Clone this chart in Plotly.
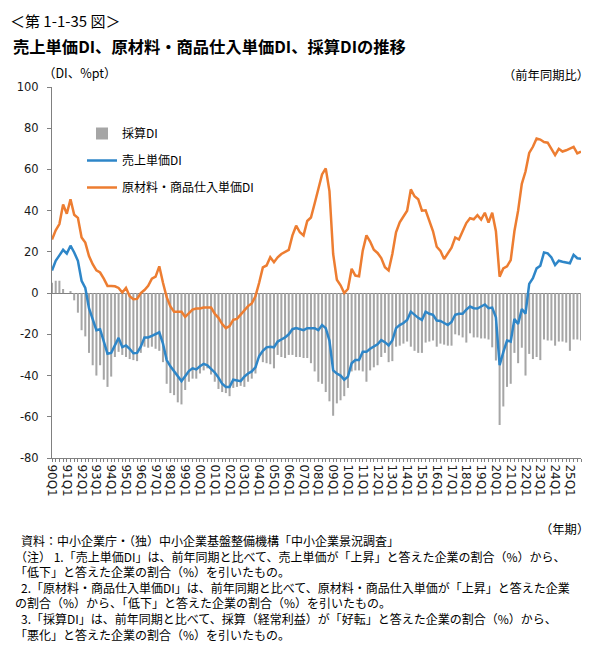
import plotly.graph_objects as go

# ---------------- data ----------------
year_labels = ["90", "91", "92", "93", "94", "95", "96", "97", "98", "99",
               "00", "01", "02", "03", "04", "05", "06", "07", "08", "09",
               "10", "11", "12", "13", "14", "15", "16", "17", "18", "19",
               "20", "21", "22", "23", "24", "25"]
quarter_labels = [f"{y}Q{q}" for y in year_labels for q in (1, 2, 3, 4)]

# 採算DI (bars)
saisan_di = [
    5, 6, 6, 2,                 # 90
    0, 1, -3.5, -9.5,           # 91
    -18, -21, -29, -35,         # 92
    -40, -35, -42, -45.5,       # 93
    -40.5, -31, -28.5, -30,     # 94
    -31, -32, -32.5, -33,       # 95
    -29, -26, -26.5, -26,       # 96
    -27, -28, -33.5, -44,       # 97
    -48.5, -49.5, -53, -54,     # 98
    -47, -43, -41.5, -41.5,     # 99
    -39, -37.5, -36.5, -39.5,   # 00
    -43, -46.5, -48, -48.5,     # 01
    -50, -46, -45.5, -45,       # 02
    -45.5, -43, -41.5, -39,     # 03
    -31.5, -33.5, -34, -34.5,   # 04
    -36.5, -30, -31, -31.5,     # 05
    -30, -30, -31, -31,         # 06
    -31.5, -31.5, -34, -38,     # 07
    -43, -44, -48, -52.5,       # 08
    -59.5, -53.5, -52, -50,     # 09
    -46, -38, -37.5, -37.5,     # 10
    -38, -43, -37.5, -36,       # 11
    -35, -31, -29, -33.5,       # 12
    -33, -26, -25.5, -24.5,     # 13
    -23.5, -26, -28, -29,       # 14
    -29, -24, -23.5, -23,       # 15
    -26, -24.5, -25, -25.5,     # 16
    -25.5, -20, -20.5, -21.5,   # 17
    -24, -19.5, -21.5, -21.5,   # 18
    -22, -22, -22.5, -26.3,     # 19
    -32.7, -64, -55, -45.5,     # 20
    -44, -29, -34, -26.5,       # 21
    -40, -29.5, -32, -31,       # 22
    -32.5, -22.5, -23, -23,     # 23
    -25.5, -23.5, -23.5, -24,   # 24
    -28, -22.5, -22.5, -23,     # 25
]

# 売上単価DI (blue line)
uriage_di = [
    11, 15.7, 18.3, 21,         # 90
    19.2, 23, 19.7, 15.7,       # 91
    6, 2.5, -7.3, -13.2,        # 92
    -18, -17.5, -23, -29.4,     # 93
    -29, -25.4, -21.7, -26.2,   # 94
    -25.4, -27, -29.2, -29,     # 95
    -26, -21.5, -21.5, -20.7,   # 96
    -20, -19, -24.5, -32.5,     # 97
    -35.5, -38, -40.6, -42.7,   # 98
    -40.3, -37.8, -36.5, -37,   # 99
    -35.5, -34.3, -35, -36.6,   # 00
    -38.5, -41, -44, -45.5,     # 01
    -45.5, -42, -42.4, -42.7,   # 02
    -40.5, -39, -38, -36,       # 03
    -30.5, -28, -26.3, -26,     # 04
    -26.3, -23.5, -22.5, -21.5, # 05
    -20, -17.5, -17, -17.5,     # 06
    -18, -17, -17, -17,         # 07
    -18, -15.5, -17, -23,       # 08
    -37.5, -39, -40, -42,       # 09
    -40.5, -34, -32.5, -32.5,   # 10
    -28.5, -28.5, -27, -26,     # 11
    -24.8, -22.8, -23.8, -25.4, # 12
    -23, -17, -15.5, -14.5,     # 13
    -13, -9, -10.5, -12,        # 14
    -13, -9, -10, -10.5,        # 15
    -13.3, -13.5, -14.5, -15.5, # 16
    -14, -10.5, -10, -10,       # 17
    -8, -6.5, -7.3, -7.5,       # 18
    -6.5, -5.5, -7.3, -7,       # 19
    -11.8, -35, -28.6, -23,     # 20
    -23.5, -12.5, -15, -7.7,    # 21
    -10, 4.5, 7.2, 12,          # 22
    13.3, 19.7, 19.3, 17.3,     # 23
    13.6, 15.7, 15.2, 14.8,     # 24
    14.5, 18.6, 16.9, 16.7,     # 25
]

# 原材料・商品仕入単価DI (orange line)
genzairyo_di = [
    26, 30.5, 33.5, 43,         # 90
    38.5, 45.5, 38, 36.5,       # 91
    27, 24.5, 18, 14,           # 92
    11, 10, 7, 3.5,             # 93
    3.5, 3.3, 2.5, 0.3,         # 94
    2.5, -1.5, -3, -2.8,        # 95
    0, 1.5, 3.5, 7,             # 96
    8, 13, 5, -2,               # 97
    -6.5, -9, -9, -9,           # 98
    -11.5, -9.5, -8, -7.5,      # 99
    -7.5, -7, -7, -7,           # 00
    -10, -12, -15, -17,         # 01
    -16, -13, -12.5, -10.5,     # 02
    -8, -6.3, -5, -1.5,         # 03
    5, 12.5, 13.4, 17.4,        # 04
    15, 17.4, 19, 20,           # 05
    21, 28, 32.7, 29.5,         # 06
    28, 35, 36.7, 43.5,         # 07
    51, 57.6, 60.5, 49.5,       # 08
    19, 6.5, 3.8, 0,            # 09
    2, 11.8, 8.5, 8.2,          # 10
    20.6, 28, 25, 21,           # 11
    19.5, 17, 12.6, 11,         # 12
    19, 29.5, 34.4, 37,         # 13
    40, 50.3, 47, 45.5,         # 14
    40, 40.2, 35, 30,           # 15
    22.5, 20.5, 16.5, 19.5,     # 16
    22, 27, 26, 30,             # 17
    34, 36.3, 35.8, 37.8,       # 18
    35.7, 39, 34.2, 39,         # 19
    30, 8, 12, 13,              # 20
    16, 30, 40, 53,             # 21
    59, 68, 71, 75,             # 22
    74.5, 73.3, 73, 70,         # 23
    67, 70, 68.7, 69.3,         # 24
    70.3, 71, 67.8, 68.7,       # 25
]

y_tick_vals = [100, 80, 60, 40, 20, 0, -20, -40, -60, -80]
y_tick_text = ["100", "80", "60", "40", "20", "0", "-20", "-40", "-60", "-80"]

IND = "\u2002"  # small indent (en space) used in the notes block
note_lines = [
    IND + "資料：中小企業庁・（独）中小企業基盤整備機構「中小企業景況調査」",
    "（注） 1.「売上単価DI」は、前年同期と比べて、売上単価が「上昇」と答えた企業の割合（%）から、",
    "「低下」と答えた企業の割合（%）を引いたもの。",
    IND + "2.「原材料・商品仕入単価DI」は、前年同期と比べて、原材料・商品仕入単価が「上昇」と答えた企業",
    "の割合（%）から、「低下」と答えた企業の割合（%）を引いたもの。",
    IND + "3.「採算DI」は、前年同期と比べて、採算（経常利益）が「好転」と答えた企業の割合（%）から、",
    "「悪化」と答えた企業の割合（%）を引いたもの。",
]

# ---------------- layout helpers ----------------
# The page body has an 8px margin, so the figure is drawn 8px in from the
# window's top-left corner; all positions below are given in window pixels.
OFF = 8
W, H = 602 - OFF, 645 - OFF
PL, PR, PT, PB = 52, 581, 87, 458  # plot area in window pixels


def px(x):
    return (x - PL) / (PR - PL)


def py(y):
    return (PB - y) / (PB - PT)


JP = "Noto Sans CJK JP"
NUM = "DejaVu Sans"
AXIS_COL = "#808080"

x_idx = list(range(len(quarter_labels)))

fig = go.Figure()
fig.add_trace(go.Bar(
    x=x_idx, y=saisan_di, name="採算DI",
    marker=dict(color="#A6A6A6", line=dict(width=0)),
    legendgroup="g1",
))
fig.add_trace(go.Scatter(
    x=x_idx, y=uriage_di, name="売上単価DI", mode="lines",
    line=dict(color="#2E86C8", width=2.5),
    legendgroup="g2",
))
fig.add_trace(go.Scatter(
    x=x_idx, y=genzairyo_di, name="原材料・商品仕入単価DI", mode="lines",
    line=dict(color="#ED7D31", width=2.5),
    legendgroup="g3",
))

annotations = [
    dict(text="＜第 1-1-35 図＞", x=px(8), y=py(20), xanchor="left", yanchor="middle",
         font=dict(family=JP, size=15, color="#000")),
    dict(text="<b>売上単価DI、原材料・商品仕入単価DI、採算DIの推移</b>", x=px(11), y=py(46),
         xanchor="left", yanchor="middle", font=dict(family=JP, size=16.3, color="#000")),
    dict(text="（DI、%pt）", x=px(41), y=py(72), xanchor="left", yanchor="middle",
         font=dict(family=JP, size=12.5, color="#000")),
    dict(text="（前年同期比）", x=px(591), y=py(75), xanchor="right", yanchor="middle",
         font=dict(family=JP, size=12.3, color="#000")),
    dict(text="（年期）", x=px(591), y=py(529), xanchor="right", yanchor="middle",
         font=dict(family=JP, size=12.3, color="#000")),
    dict(text="<br>".join(note_lines), x=px(13), y=py(587.5), xanchor="left", yanchor="middle",
         align="left", font=dict(family=JP, size=12.0, color="#000")),
]
for a in annotations:
    a.update(xref="paper", yref="paper", showarrow=False)

fig.update_layout(
    width=W, height=H,
    margin=dict(l=PL - OFF, r=W - (PR - OFF), t=PT - OFF, b=H - (PB - OFF), autoexpand=False),
    paper_bgcolor="white", plot_bgcolor="white",
    bargap=0.45,
    font=dict(family=JP, size=12, color="#000"),
    showlegend=True,
    legend=dict(
        x=px(82), y=py(119), xanchor="left", yanchor="top",
        bgcolor="rgba(0,0,0,0)", borderwidth=0,
        font=dict(family=JP, size=12, color="#000"),
        tracegroupgap=8, itemwidth=30,
    ),
    annotations=annotations,
    xaxis=dict(
        range=[0, len(x_idx) - 1],
        tickmode="array", tickvals=x_idx[::4], ticktext=quarter_labels[::4],
        tickangle=90, ticks="outside", ticklen=3, tickcolor=AXIS_COL,
        showline=True, linecolor=AXIS_COL, linewidth=1,
        showgrid=False, zeroline=False,
        tickfont=dict(family=NUM, size=12, color="#1a1a1a"),
        minor=dict(tickmode="linear", tick0=0, dtick=1, ticks="outside",
                   ticklen=3, tickcolor=AXIS_COL, showgrid=False),
        fixedrange=True,
    ),
    yaxis=dict(
        range=[-80, 100], tickmode="array", tickvals=y_tick_vals, ticktext=y_tick_text,
        ticks="outside", ticklen=4, tickcolor=AXIS_COL,
        showline=True, linecolor=AXIS_COL, linewidth=1,
        showgrid=False, zeroline=True, zerolinecolor=AXIS_COL, zerolinewidth=1,
        tickfont=dict(family=NUM, size=11.5, color="#1a1a1a"),
        ticklabelstandoff=6,
        fixedrange=True,
    ),
)

fig.write_html("out.html")
